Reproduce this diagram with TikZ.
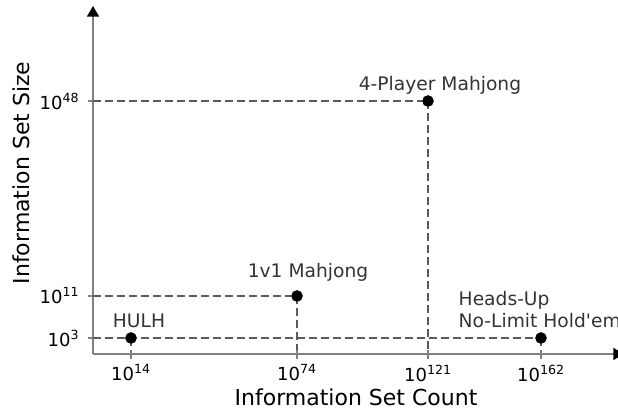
\documentclass[tikz,border=0pt]{standalone}
\usepackage{fontspec}
\setmainfont{DejaVu Sans}
\definecolor{AxisGray}{RGB}{128, 128, 128}
\definecolor{GuideGray}{RGB}{90, 90, 90}
\definecolor{LabelGray}{RGB}{51, 51, 51}
\usetikzlibrary{arrows.meta, positioning}

\begin{document}
\begin{tikzpicture}[x=0.75pt, y=0.75pt,
        axis/.style={AxisGray, line width=1.1pt, -{Triangle[length=8pt, width=9pt, color=black]}},
        guide/.style={GuideGray, line width=1.5pt, dash pattern=on 6pt off 3pt},
        tick/.style={AxisGray, line width=1.1pt},
        dot/.style={circle, fill=black, inner sep=0pt, minimum size=8.5pt},
        ticklabel/.style={font=\fontsize{13.5}{16}\selectfont},
        gamelabel/.style={LabelGray, font=\fontsize{14}{16.5}\selectfont},
        axistitle/.style={font=\fontsize{16.5}{19}\selectfont}]
    \useasboundingbox (0,0) rectangle (618,411);

    % axes
    \coordinate (o) at (93,57);
    \coordinate (xend) at (624,57);
    \coordinate (yend) at (93,405);
    \draw[axis] (o) -- (xend);
    \draw[axis] (o) -- (yend);

    % points on the axes
    \coordinate (x14) at (131,57);
    \coordinate (x74) at (297,57);
    \coordinate (x121) at (428,57);
    \coordinate (x162) at (541,57);
    \coordinate (y3) at (93,73);
    \coordinate (y11) at (93,115);
    \coordinate (y48) at (93,310);

    % games
    \node[dot] (hulh) at (131,73) {};
    \node[dot] (mj2) at (297,115) {};
    \node[dot] (mj4) at (428,310) {};
    \node[dot] (nlhe) at (541,73) {};

    % guide lines
    \draw[guide] (y3) -- (nlhe.center);
    \draw[guide] (y11) -- (mj2.center);
    \draw[guide] (y48) -- (mj4.center);
    \draw[guide] (mj2.center) -- (x74);
    \draw[guide] (mj4.center) -- (x121);
    \draw[guide] (hulh.center) -- (x14);
    \draw[guide] (nlhe.center) -- (x162);
    \node[dot] at (hulh) {};
    \node[dot] at (mj2) {};
    \node[dot] at (mj4) {};
    \node[dot] at (nlhe) {};

    % ticks
    \foreach \t in {x14, x74, x121, x162}
        \draw[tick] ([yshift=3pt]\t) -- ([yshift=-3.5pt]\t);
    \foreach \t in {y3, y11, y48}
        \draw[tick] (\t) -- ([xshift=-4pt]\t);

    % tick labels
    \node[ticklabel] (l14) at (131,38) {10\textsuperscript{14}};
    \node[ticklabel] (l74) at (297,38) {10\textsuperscript{74}};
    \node[ticklabel] (l121) at (428,38) {10\textsuperscript{121}};
    \node[ticklabel] (l162) at (541,38) {10\textsuperscript{162}};
    \node[ticklabel, anchor=east] (l3) at (84,73) {10\textsuperscript{3}};
    \node[ticklabel, anchor=east] (l11) at (84,115) {10\textsuperscript{11}};
    \node[ticklabel, anchor=east] (l48) at (84,310) {10\textsuperscript{48}};

    % axis titles
    \node[axistitle] (xtitle) at (356,14) {Information Set Count};
    \node[axistitle, rotate=90] (ytitle) at (21,238) {Information Set Size};

    % game names
    \node[gamelabel] (t4) at (440,326) {4-Player Mahjong};
    \node[gamelabel] (t2) at (308,139) {1v1 Mahjong};
    \node[gamelabel] (th) at (139,90) {HULH};
    \node[gamelabel, anchor=west, align=left] (tn) at (454,101) {Heads-Up\\No-Limit Hold\textquotesingle em};
\end{tikzpicture}
\end{document}
